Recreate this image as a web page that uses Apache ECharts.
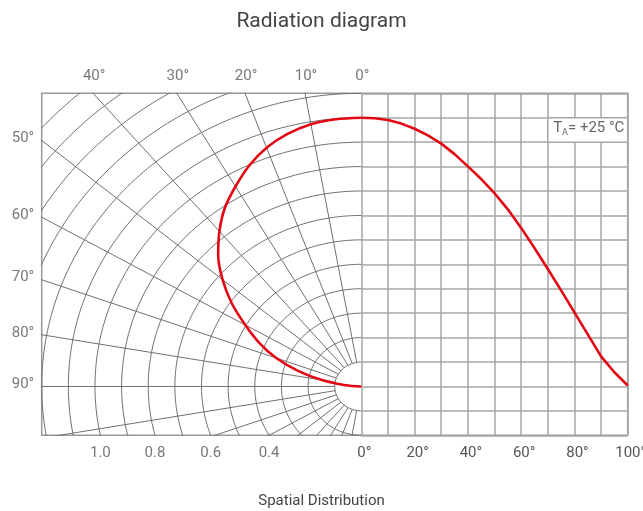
<!DOCTYPE html>
<html><head><meta charset="utf-8">
<script src="https://cdn.jsdelivr.net/npm/echarts/dist/echarts.min.js"></script>
<style>html,body{margin:0;padding:0;background:#fff}#c{width:643px;height:511px}</style>
</head><body><div id="c"></div>
<script>
// ---- data ----
const polarAngles    = [0, 5, 10, 15, 20, 25, 30, 35, 40, 45, 50, 55, 60, 65, 70, 75, 80, 85, 90];
const polarIntensity = [1.10, 1.098, 1.09, 1.07, 1.04, 0.997, 0.945, 0.893, 0.829, 0.76, 0.68, 0.594, 0.503, 0.423, 0.34, 0.246, 0.15, 0.06, 0];
const rightAngles    = [0, 5, 10, 15, 20, 25, 30, 35, 40, 45, 50, 55, 60, 65, 70, 75, 80, 85, 90, 95, 100];
const rightIntensity = [1.10, 1.098, 1.091, 1.076, 1.055, 1.028, 0.994, 0.951, 0.901, 0.849, 0.791, 0.725, 0.649, 0.567, 0.481, 0.393, 0.303, 0.213, 0.123, 0.058, 0.004];
const topAngleLabels  = [40, 30, 20, 10, 0];
const leftAngleLabels = [50, 60, 70, 80, 90];
const radiusLabels    = [1.0, 0.8, 0.6, 0.4];
const circleRadii     = [1, 2, 3, 4, 5, 6, 7, 8, 9, 10, 11, 12, 13, 14, 15, 16];
const spokeAngles     = [10, 20, 30, 40, 50, 60, 70, 80, 90, 100, 110, 120, 130, 140, 150, 160, 170];
const title = 'Radiation diagram';
const xTitle = 'Spatial Distribution';

// ---- helpers ----
const U = 10; // grid units per 1.0 relative intensity
const FONT = 'Roboto';
function p2xy(deg, r) { const t = deg * Math.PI / 180; return [-r * Math.sin(t), r * Math.cos(t)]; }

const G = { left: 41.7, right: 15.3, top: 93.3, bottom: 75.7 };
const xZeroPx = G.left + 12 / 22 * (643 - G.left - G.right);

const series = [];
const polarLine = { color: '#707070', width: 1 };
circleRadii.forEach(r => {
  const d = [];
  for (let a = 0; a <= 180; a += 1) d.push(p2xy(a, r));
  series.push({ type: 'line', xAxisIndex: 1, yAxisIndex: 1, data: d, symbol: 'none', silent: true, clip: true, lineStyle: polarLine, z: 2 });
});
spokeAngles.forEach(a => {
  series.push({ type: 'line', xAxisIndex: 1, yAxisIndex: 1, data: [p2xy(a, 1), p2xy(a, 25)], symbol: 'none', silent: true, clip: true, lineStyle: polarLine, z: 2 });
});

// red polar curve
series.push({
  type: 'line', xAxisIndex: 1, yAxisIndex: 1, symbol: 'none', smooth: 0.3, clip: true, z: 5,
  data: polarAngles.map((a, i) => p2xy(a, polarIntensity[i] * U)),
  lineStyle: { color: '#e30613', width: 2.6, join: 'round' }
});
// red cartesian curve
series.push({
  type: 'line', xAxisIndex: 0, yAxisIndex: 0, symbol: 'none', smooth: false, z: 5,
  data: rightAngles.map((a, i) => [a, rightIntensity[i] * U]),
  lineStyle: { color: '#e30613', width: 2.6, join: 'round' },
  markArea: {
    silent: true,
    itemStyle: { color: '#fff', borderColor: '#a6a6a6', borderWidth: 1.5 },
    label: {
      show: true, position: 'inside', offset: [1, -2],
      formatter: '{t|T}{s|A}{t|= +25 °C}',
      rich: {
        t: { fontSize: 15, color: '#666', fontFamily: FONT, lineHeight: 18 },
        s: { fontSize: 9, color: '#666', fontFamily: FONT, lineHeight: 5, verticalAlign: 'bottom' }
      }
    },
    data: [[{ xAxis: 70, yAxis: 10 }, { xAxis: 100, yAxis: 11 }]]
  }
});

const lblStyle = { color: '#555', fontSize: 15, fontFamily: FONT };
function labelSeries(data, pos, dist, offset) {
  return {
    type: 'scatter', xAxisIndex: 1, yAxisIndex: 1, symbolSize: 1, silent: true, z: 6,
    itemStyle: { color: 'rgba(0,0,0,0)' },
    data: data,
    label: Object.assign({ show: true, position: pos, distance: dist, offset: offset || [0, 0],
      formatter: p => p.data.name }, lblStyle)
  };
}
series.push(labelSeries(topAngleLabels.map(a => ({ name: a + '°', value: [-12 * Math.tan(a * Math.PI / 180), 12] })), 'top', 9, [1, 0]));
series.push(labelSeries(leftAngleLabels.map(a => ({ name: a + '°', value: [-12, 12 * Math.cos(a * Math.PI / 180) / Math.sin(a * Math.PI / 180)] })), 'left', 7, [0, -2]));
series.push(labelSeries(radiusLabels.map(v => ({ name: v.toFixed(1), value: [-Math.sqrt((v * U) * (v * U) - 4), -2] })), 'bottom', 10));

const option = {
  animation: false,
  backgroundColor: '#fff',
  title: [
    { text: title, left: 'center', top: 11, padding: 0, textStyle: { fontSize: 21, fontWeight: 'normal', color: '#444', fontFamily: FONT } },
    { text: xTitle, left: 'center', top: 494, padding: 0, textStyle: { fontSize: 15, fontWeight: 'normal', color: '#444', fontFamily: FONT } }
  ],
  grid: [
    { left: xZeroPx, right: G.right, top: G.top, bottom: G.bottom, containLabel: false, outerBoundsMode: 'none' },
    { left: G.left, right: G.right, top: G.top, bottom: G.bottom, containLabel: false, outerBoundsMode: 'none',
      show: true, borderColor: '#999', borderWidth: 1.5, backgroundColor: 'transparent' }
  ],
  xAxis: [
    { type: 'value', gridIndex: 0, min: 0, max: 100, interval: 10,
      axisLine: { show: false }, axisTick: { show: false },
      splitLine: { show: true, lineStyle: { color: '#a6a6a6', width: 1.5 } },
      axisLabel: Object.assign({ margin: 10, padding: [0, 0, 0, 6], showMinLabel: true, showMaxLabel: true,
        formatter: v => (v % 20 === 0 ? v + '°' : '') }, lblStyle) },
    { type: 'value', gridIndex: 1, min: -12, max: 10, interval: 1, show: false }
  ],
  yAxis: [
    { type: 'value', gridIndex: 0, min: -2, max: 12, interval: 1,
      axisLine: { show: false }, axisTick: { show: false }, axisLabel: { show: false },
      splitLine: { show: true, lineStyle: { color: '#a6a6a6', width: 1.5 } } },
    { type: 'value', gridIndex: 1, min: -2, max: 12, interval: 1, show: false }
  ],
  series: series
};
const chart = echarts.init(document.getElementById('c'));
chart.setOption(option);
</script>
</body></html>
